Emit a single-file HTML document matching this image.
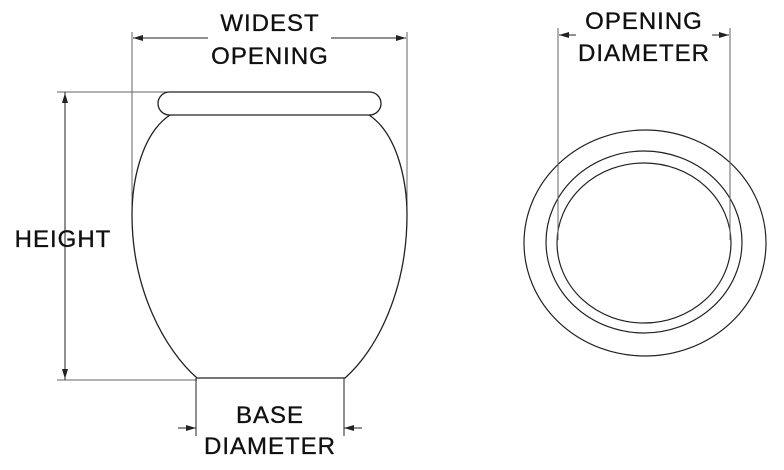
<!DOCTYPE html>
<html><head><style>
html,body{margin:0;padding:0;background:#fff;}
svg{display:block}
text{font-family:"Liberation Sans",sans-serif;font-size:24px;fill:#111;stroke:#111;stroke-width:0.35;text-anchor:middle;letter-spacing:1px;}
</style></head><body>
<svg width="784" height="470" viewBox="0 0 784 470" xmlns="http://www.w3.org/2000/svg">
<defs>
<marker id="a" markerWidth="10" markerHeight="6" refX="10" refY="3" orient="auto" markerUnits="userSpaceOnUse"><path d="M0,0 L10,3 L0,6 Z" fill="#222"/></marker>
</defs>
<g stroke="#222" fill="none" stroke-width="1">
<line x1="132" y1="32" x2="132" y2="215" stroke="#666"/>
<line x1="407" y1="32" x2="407" y2="215" stroke="#666"/>
<line x1="208" y1="38" x2="133" y2="38" marker-end="url(#a)"/>
<line x1="331" y1="38" x2="406" y2="38" marker-end="url(#a)"/>
<line x1="57" y1="92" x2="170" y2="92" stroke="#666"/>
<line x1="57" y1="380" x2="197" y2="380" stroke="#666"/>
<line x1="65" y1="380" x2="65" y2="93" marker-end="url(#a)"/>
<line x1="65" y1="92" x2="65" y2="379" marker-end="url(#a)"/>
<rect x="158" y="92" width="223" height="23" rx="11.5" stroke-width="1.3"/>
<path d="M170,115 C140,135 132,185 132,215 C132,290 165,350 197,378 L345,378 C377,350 407,290 407,215 C407,185 399,135 369,115" stroke-width="1.3"/>
<line x1="196" y1="378" x2="196" y2="436"/>
<line x1="344" y1="378" x2="344" y2="436"/>
<line x1="178" y1="428" x2="196" y2="428" marker-end="url(#a)"/>
<line x1="362" y1="428" x2="344" y2="428" marker-end="url(#a)"/>
<ellipse cx="645" cy="243" rx="121" ry="113" stroke-width="1.2"/>
<ellipse cx="644" cy="242" rx="98" ry="91" stroke-width="1.2"/>
<ellipse cx="644" cy="243" rx="87" ry="80" stroke-width="1.2"/>
<line x1="558" y1="28" x2="558" y2="240" stroke="#666"/>
<line x1="730" y1="28" x2="730" y2="240" stroke="#666"/>
<line x1="576" y1="35" x2="559" y2="35" marker-end="url(#a)"/>
<line x1="712" y1="35" x2="729" y2="35" marker-end="url(#a)"/>
</g>
<text x="270" y="31">WIDEST</text>
<text x="270" y="64">OPENING</text>
<text x="63" y="247">HEIGHT</text>
<text x="270" y="423">BASE</text>
<text x="270" y="454">DIAMETER</text>
<text x="644" y="29">OPENING</text>
<text x="644" y="61">DIAMETER</text>
</svg>
</body></html>
